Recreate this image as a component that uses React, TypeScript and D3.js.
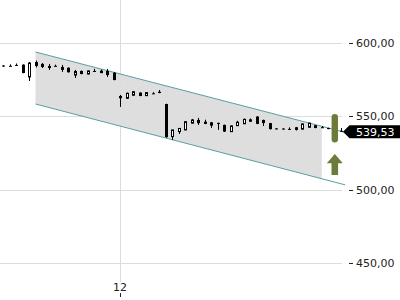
import React from "react";
import * as d3 from "d3";

const W = 400;
const H = 300;

// OHLC candles (index order)
const opens = [584.8,584.6,585.2,585.4,577.0,587.2,585.9,584.5,584.6,583.8,583.3,578.3,581.1,579.0,581.1,581.3,581.1,579.9,564.0,562.4,564.5,566.3,564.2,565.8,566.9,558.5,536.2,539.6,540.8,545.4,547.6,546.4,546.0,545.6,544.2,539.6,543.7,545.0,548.0,549.9,547.6,545.4,541.8,541.7,541.5,542.6,541.3,542.6,544.0,542.6,542.1,541.8,540.2];
const highs = [585.0,585.6,586.2,585.6,587.2,588.2,586.5,585.9,585.4,585.2,583.5,581.8,581.4,581.4,582.5,582.0,582.5,580.2,564.7,566.3,567.3,566.5,566.5,566.6,568.1,558.7,540.8,542.1,546.6,548.3,549.0,547.8,546.2,545.7,544.4,543.7,547.0,548.5,548.6,550.2,547.8,545.6,542.0,541.9,542.5,542.8,545.1,545.6,544.2,543.4,542.3,542.0,542.1];
const lows = [584.0,584.4,585.0,579.5,574.2,583.5,583.1,581.8,584.2,580.4,580.0,576.3,578.8,578.8,580.4,579.6,577.0,574.7,556.5,562.0,564.3,563.8,564.0,565.5,565.9,535.5,533.9,538.0,540.6,545.2,544.2,544.7,542.1,540.8,539.4,539.4,543.5,544.8,546.2,544.7,543.5,541.1,541.3,541.2,540.9,540.4,541.1,542.4,541.9,542.1,541.2,540.6,539.4];
const closes = [584.2,584.4,585.0,579.7,586.5,584.5,583.8,583.1,584.2,581.8,580.2,580.7,579.0,581.1,580.6,579.6,578.3,574.9,562.4,565.8,566.9,564.0,566.3,565.5,566.0,535.8,540.8,541.8,546.4,547.6,545.4,544.9,543.7,545.2,539.6,543.5,546.0,548.0,546.4,544.9,545.5,541.3,541.5,541.4,541.0,540.8,544.9,545.4,542.1,542.3,541.4,541.0,539.53];

// y axis ticks
const yTicks = [450, 500, 550, 600];
// x axis ticks: candle index -> label
const xTickIdx = [18];
const xTickLabels = ["12"];

// trend channel (index, value)
const channelIdx = [5, 52.6];
const channelUpper = [594.06, 539.1];
const channelLower = [558.5, 503.2];
const shadeEndIdx = 49;

// indicator
const signalIdx = 51;
const signalBar = [532.2, 551.7];
const lastPrice = 539.53;

const fmt = (v: number) => v.toFixed(2).replace(".", ",");

export default function App() {
  const x = d3.scaleLinear().domain([0, 52]).range([3, 341.3]);
  const y = d3.scaleLinear().domain([450, 600]).range([262.7, 43.3]);

  const chanAt = (arr: number[], i: number) =>
    arr[0] + ((arr[1] - arr[0]) * (i - channelIdx[0])) / (channelIdx[1] - channelIdx[0]);

  const shadePts: [number, number][] = [
    [x(channelIdx[0]), y(channelUpper[0])],
    [x(shadeEndIdx), y(chanAt(channelUpper, shadeEndIdx))],
    [x(shadeEndIdx), y(chanAt(channelLower, shadeEndIdx))],
    [x(channelIdx[0]), y(channelLower[0])],
  ];
  const line = d3.line();

  const green = "#6b7b3a";
  const font = "DejaVu Sans, sans-serif";
  const sx = x(signalIdx);
  const ly = y(lastPrice);

  return (
    <svg width={W} height={H} style={{ position: "absolute", left: 0, top: 0, background: "#fff" }}>
      <rect width={W} height={H} fill="#fff" />
      <path d={line(shadePts) + "Z"} fill="#000" fillOpacity={0.13} />
      {yTicks.map((t) => (
        <g key={t}>
          <line x1={0} x2={342} y1={Math.round(y(t)) + 0.5} y2={Math.round(y(t)) + 0.5} stroke="#dcdcdc" />
          <line x1={349} x2={353} y1={Math.round(y(t)) + 0.5} y2={Math.round(y(t)) + 0.5} stroke="#222" />
          <text x={356} y={y(t) + 4} fontSize={11} fontFamily={font} fill="#222">{fmt(t)}</text>
        </g>
      ))}
      {xTickIdx.map((i, k) => (
        <g key={i}>
          <line x1={Math.round(x(i)) + 0.5} x2={Math.round(x(i)) + 0.5} y1={0} y2={282} stroke="#dcdcdc" />
          <line x1={Math.round(x(i)) + 0.5} x2={Math.round(x(i)) + 0.5} y1={293} y2={297} stroke="#222" />
          <text x={x(i)} y={291} fontSize={11} fontFamily={font} fill="#222" textAnchor="middle">{xTickLabels[k]}</text>
        </g>
      ))}
      <line x1={x(channelIdx[0])} y1={y(channelUpper[0])} x2={x(channelIdx[1])} y2={y(channelUpper[1])} stroke="#5a9ea3" strokeWidth={1} />
      <line x1={x(channelIdx[0])} y1={y(channelLower[0])} x2={x(channelIdx[1])} y2={y(channelLower[1])} stroke="#5a9ea3" strokeWidth={1} />
      {opens.map((o, i) => {
        const c = closes[i];
        const cx = Math.round(x(i)) + 0.5;
        const up = c > o;
        const top = y(Math.max(o, c));
        const bot = y(Math.min(o, c));
        const h = Math.max(1, bot - top);
        return (
          <g key={i}>
            <line x1={cx} x2={cx} y1={y(highs[i])} y2={y(lows[i])} stroke="#000" />
            {up ? (
              <rect x={cx - 1} y={top} width={2} height={h} fill="#fff" stroke="#000" />
            ) : (
              <rect x={cx - 1.5} y={top} width={3} height={h} fill="#000" />
            )}
          </g>
        );
      })}
      <rect x={sx - 3.2} y={y(signalBar[1])} width={6.4} height={y(signalBar[0]) - y(signalBar[1])} rx={3.2} fill={green} />
      <path d={`M${sx},154 L${sx + 8},163.3 L${sx + 3.3},163.3 L${sx + 3.3},175 L${sx - 3.3},175 L${sx - 3.3},163.3 L${sx - 8},163.3 Z`} fill={green} />
      <path d={`M343,${ly} L349.5,${ly - 6.5} L400,${ly - 6.5} L400,${ly + 6.5} L349.5,${ly + 6.5} Z`} fill="#000" />
      <text x={356} y={ly + 4} fontSize={11} fontFamily={font} fill="#fff">{fmt(lastPrice)}</text>
    </svg>
  );
}
